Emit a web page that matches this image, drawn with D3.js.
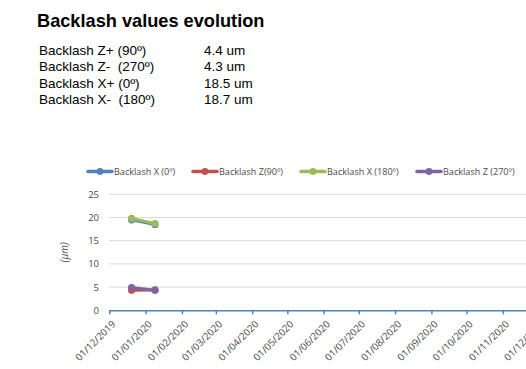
<!DOCTYPE html>
<html><head><meta charset="utf-8">
<script src="https://cdn.jsdelivr.net/npm/d3@7"></script>
<style>body{margin:0;background:#fff}svg{display:block}</style>
</head><body>
<script>
const title = "Backlash values evolution";
const summaryLabels = ["Backlash Z+ (90º)", "Backlash Z-  (270º)", "Backlash X+ (0º)", "Backlash X-  (180º)"];
const summaryValues = ["4.4 um", "4.3 um", "18.5 um", "18.7 um"];
const dates = ["2019-12-20", "2020-01-09"];
const seriesNames = ["Backlash X (0º)", "Backlash Z(90º)", "Backlash X (180º)", "Backlash Z (270º)"];
const seriesColors = ["#4f81bd", "#c0504d", "#9bbb59", "#8064a2"];
const valuesX0 = [19.5, 18.5];
const valuesZ90 = [4.3, 4.4];
const valuesX180 = [19.8, 18.7];
const valuesZ270 = [4.9, 4.3];
const yTicks = [0, 5, 10, 15, 20, 25];
const xTickDates = ["2019-12-01","2020-01-01","2020-02-01","2020-03-01","2020-04-01","2020-05-01","2020-06-01","2020-07-01","2020-08-01","2020-09-01","2020-10-01","2020-11-01","2020-12-01"];

const W = 526, H = 369;
const svg = d3.select("body").append("svg").attr("width", W).attr("height", H);

svg.append("text").attr("x", 37).attr("y", 27).attr("font-family", "Liberation Sans, Arial, sans-serif")
  .attr("font-size", 18.2).attr("font-weight", "bold").attr("fill", "#000").text(title);
summaryLabels.forEach((l, i) => {
  const y = 55 + i * 16.3;
  svg.append("text").attr("x", 39).attr("y", y).attr("font-family", "Liberation Sans, Arial, sans-serif")
    .attr("font-size", 13.5).attr("fill", "#000").style("white-space", "pre").text(l);
  svg.append("text").attr("x", 204).attr("y", y).attr("font-family", "Liberation Sans, Arial, sans-serif")
    .attr("font-size", 13.5).attr("fill", "#000").text(summaryValues[i]);
});

const parse = d3.timeParse("%Y-%m-%d");
const x = d3.scaleTime().domain([parse("2019-12-01"), parse("2020-12-01")]).range([109.3, 538]);
const y = d3.scaleLinear().domain([0, 25]).range([310.3, 194.3]);
const font = "Open Sans, DejaVu Sans, sans-serif";
const gray = "#4a4a4a";

// gridlines
svg.append("g").selectAll("line").data(yTicks.filter(d => d > 0)).join("line")
  .attr("x1", 109).attr("x2", W).attr("y1", d => y(d)).attr("y2", d => y(d))
  .attr("stroke", "#d9d9d9").attr("stroke-width", 1);

// y labels
svg.append("g").selectAll("text").data(yTicks).join("text")
  .attr("x", 99).attr("y", d => y(d) + 3.5).attr("text-anchor", "end")
  .attr("font-family", font).attr("font-size", 9.5).attr("fill", gray).text(d => d);

svg.append("text").attr("transform", `translate(68,${y(12.5)}) rotate(-90)`).attr("text-anchor", "middle")
  .attr("font-family", font).attr("font-size", 10).attr("font-style", "italic").attr("fill", gray).text("(μm)");

// x axis
const xa = svg.append("g").attr("transform", `translate(0,${y(0)})`)
  .call(d3.axisBottom(x).tickValues(xTickDates.map(parse)).tickSize(4).tickFormat(d3.timeFormat("%d/%m/%Y")));
xa.select(".domain").attr("stroke", "#4f81bd").attr("stroke-width", 1.5).attr("d", `M${x.range()[0]},0.5H${W}`);
xa.selectAll(".tick line").attr("stroke", "#4f81bd").attr("stroke-width", 1.5).attr("y1", 0);
xa.selectAll(".tick text").attr("font-family", font).attr("font-size", 9.8).attr("fill", gray)
  .attr("text-anchor", "end").attr("dx", 0).attr("dy", 0)
  .attr("transform", "translate(1.5,9.5) rotate(-45)");

// series
const seriesData = [valuesX0, valuesZ90, valuesX180, valuesZ270];
const line = d3.line().x(d => x(d.date)).y(d => y(d.v));
seriesData.forEach((vals, i) => {
  const pts = dates.map((d, j) => ({date: parse(d), v: vals[j]}));
  svg.append("path").datum(pts).attr("d", line).attr("fill", "none")
    .attr("stroke", seriesColors[i]).attr("stroke-width", 3).attr("stroke-linecap", "round");
  svg.append("g").selectAll("circle").data(pts).join("circle")
    .attr("cx", d => x(d.date)).attr("cy", d => y(d.v)).attr("r", 3.6).attr("fill", seriesColors[i]);
});

// legend
const legX = [88, 193, 301, 417];
seriesNames.forEach((n, i) => {
  const g = svg.append("g").attr("transform", `translate(${legX[i]},171.5)`);
  g.append("line").attr("x1", 0).attr("x2", 24).attr("stroke", seriesColors[i]).attr("stroke-width", 3.5).attr("stroke-linecap", "round");
  g.append("circle").attr("cx", 12).attr("r", 3.4).attr("fill", seriesColors[i]);
  g.append("text").attr("x", 26).attr("y", 3.2).attr("font-family", font).attr("font-size", 9.1)
    .attr("fill", gray).text(n);
});
</script>
</body></html>
